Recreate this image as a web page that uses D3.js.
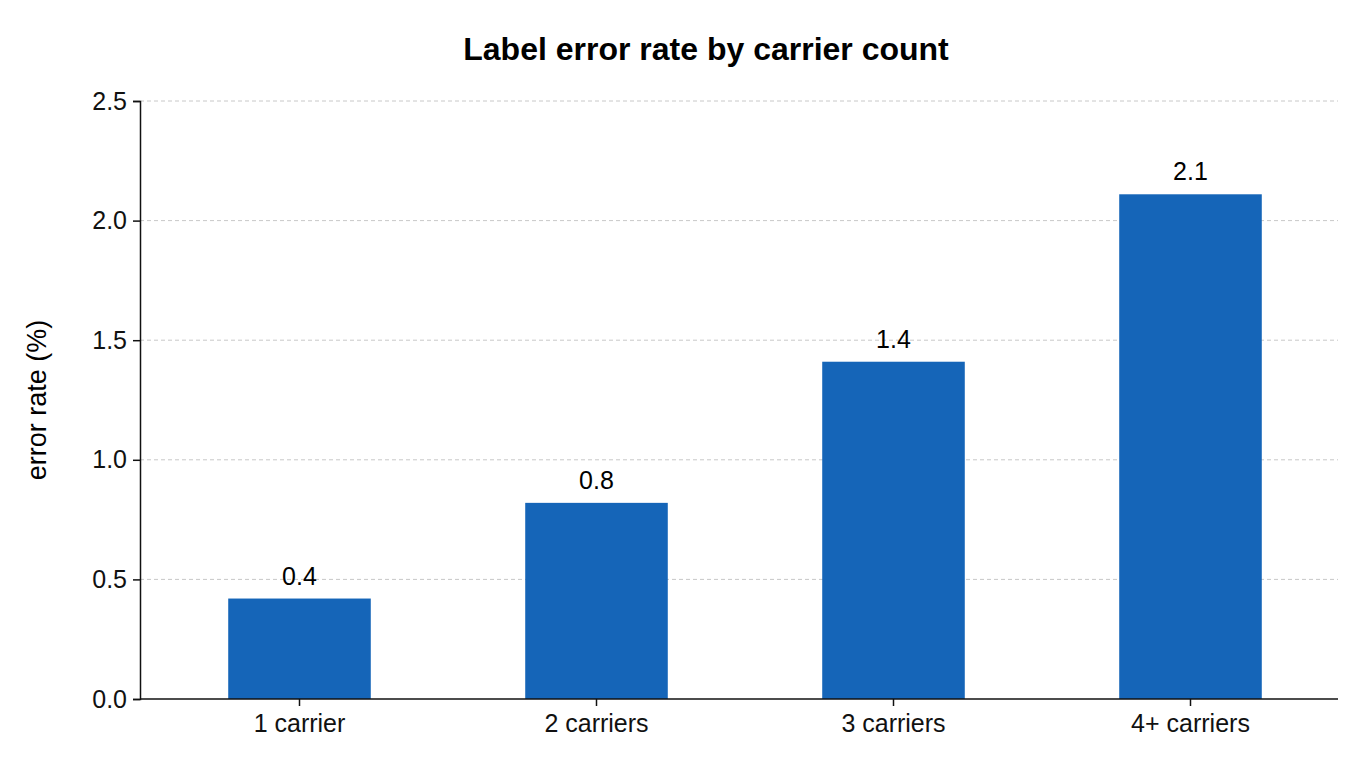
<!DOCTYPE html><html><head><meta charset="utf-8">
<script src="https://cdn.jsdelivr.net/npm/d3@7"></script>
<style>body{margin:0;background:#fff}svg{font-family:"Liberation Sans",Arial,sans-serif}</style></head><body>
<svg id="c" width="1360" height="768"></svg>
<script>
const categories=["1 carrier","2 carriers","3 carriers","4+ carriers"];
const values=[0.42,0.82,1.41,2.11];
const yTicks=[0,0.5,1,1.5,2,2.5];
const svg=d3.select("#c");
const x=d3.scaleBand().domain(categories).range([151,1339]).padding(0);
const y=d3.scaleLinear().domain([0,2.5]).range([699,101]);
svg.append("text").attr("x",706).attr("y",60).attr("text-anchor","middle").attr("font-size",32).attr("font-weight","bold").text("Label error rate by carrier count");
svg.append("g").selectAll("line").data(yTicks.slice(1)).join("line").attr("x1",140).attr("x2",1338).attr("y1",d=>y(d)).attr("y2",d=>y(d)).attr("stroke","#c8c8c8").attr("stroke-dasharray","4,3");
const bw=x.bandwidth()*0.48;
svg.append("g").selectAll("rect").data(values).join("rect").attr("x",(d,i)=>x(categories[i])+x.bandwidth()/2-bw/2).attr("width",bw).attr("y",d=>y(d)).attr("height",d=>y(0)-y(d)).attr("fill","#1565b8");
svg.append("g").selectAll("text").data(values).join("text").attr("x",(d,i)=>x(categories[i])+x.bandwidth()/2).attr("y",d=>y(d)-14).attr("text-anchor","middle").attr("font-size",25).text(d=>d.toFixed(1));
const ya=svg.append("g").attr("transform","translate(140,0)").call(d3.axisLeft(y).tickValues(yTicks).tickFormat(d3.format(".1f")).tickSize(7).tickPadding(6));
ya.selectAll("text").attr("font-size",25).attr("fill","#111");
const xa=svg.append("g").attr("transform","translate(0,699)").call(d3.axisBottom(x).tickSize(7).tickPadding(8));
xa.select(".domain").attr("d","M140,0H1338");
xa.selectAll("text").attr("font-size",25).attr("fill","#111");
svg.selectAll(".domain,.tick line").attr("stroke","#111").attr("stroke-width",1.5);
svg.append("text").attr("transform","translate(46,400) rotate(-90)").attr("text-anchor","middle").attr("font-size",27).text("error rate (%)");
</script></body></html>
